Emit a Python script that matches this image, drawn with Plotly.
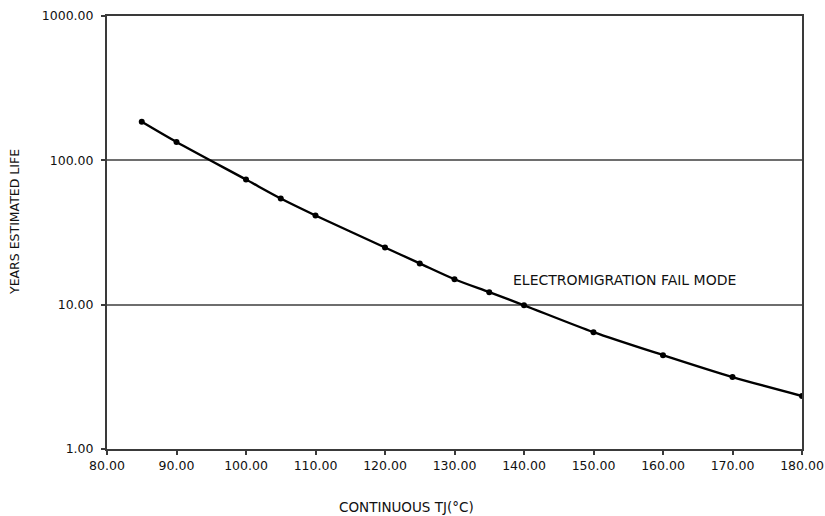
import plotly.graph_objects as go

temps = [85, 90, 100, 105, 110, 120, 125, 130, 135, 140, 150, 160, 170, 180]
years = [185, 134, 73.6, 54.4, 41.5, 24.9, 19.3, 15.0, 12.2, 9.9, 6.45, 4.47, 3.15, 2.33]

x_ticks = [80, 90, 100, 110, 120, 130, 140, 150, 160, 170, 180]
x_tick_text = ["80.00", "90.00", "100.00", "110.00", "120.00", "130.00", "140.00",
               "150.00", "160.00", "170.00", "180.00"]
y_ticks = [1, 10, 100, 1000]
y_tick_text = ["1.00", "10.00", "100.00", "1000.00"]

FONT = "DejaVu Sans, Verdana, sans-serif"
AX = "#3a3a3a"

fig = go.Figure()
fig.add_trace(go.Scatter(
    x=temps, y=years, mode="lines+markers",
    line=dict(color="black", width=2.4, shape="spline", smoothing=0.8),
    marker=dict(color="black", size=6),
    showlegend=False,
))

# note: y in log10 units for log axis annotations
fig.add_annotation(x=0.745, y=1.171, xref="paper", yref="y", text="ELECTROMIGRATION FAIL MODE",
                   showarrow=False, font=dict(family=FONT, size=14, color="#111"),
                   xanchor="center", yanchor="middle")

fig.update_xaxes(
    range=[80, 180], tickvals=x_ticks, ticktext=x_tick_text,
    showline=True, linecolor=AX, linewidth=2, mirror=True,
    ticks="outside", ticklen=4, tickcolor=AX, tickwidth=1.5,
    showgrid=False, zeroline=False, automargin=False,
    tickfont=dict(family=FONT, size=12.5, color="#111"),
)
fig.update_yaxes(
    type="log", range=[0, 3], tickvals=y_ticks, ticktext=y_tick_text,
    showline=True, linecolor=AX, linewidth=2, mirror=True,
    ticks="outside", ticklen=4, tickcolor=AX, tickwidth=1.5,
    showgrid=True, gridcolor="#6e6e6e", gridwidth=2, zeroline=False, automargin=False,
    ticklabelstandoff=5,
    tickfont=dict(family=FONT, size=12.5, color="#111"),
)

L, R, T, B = 107, 23, 16, 67
PW = 825 - L - R
PH = 516 - T - B
fig.add_annotation(xref="paper", yref="paper", x=(406 - L) / PW, y=-(507 - 449) / PH,
                   text="CONTINUOUS TJ(°C)", showarrow=False,
                   font=dict(family=FONT, size=13.5, color="#111"),
                   xanchor="center", yanchor="middle")
fig.add_annotation(xref="paper", yref="paper", x=-(L - 15) / PW, y=(449 - 222) / PH,
                   text="YEARS ESTIMATED LIFE", showarrow=False, textangle=-90,
                   font=dict(family=FONT, size=12.5, color="#111"),
                   xanchor="center", yanchor="middle")

fig.update_layout(
    width=825, height=516,
    margin=dict(l=L, r=R, t=T, b=B),
    plot_bgcolor="white", paper_bgcolor="white",
)

fig.write_html(
    "out.html",
    config={"displayModeBar": False},
    post_script="document.body.style.margin='0';document.body.style.overflow='hidden';",
)
